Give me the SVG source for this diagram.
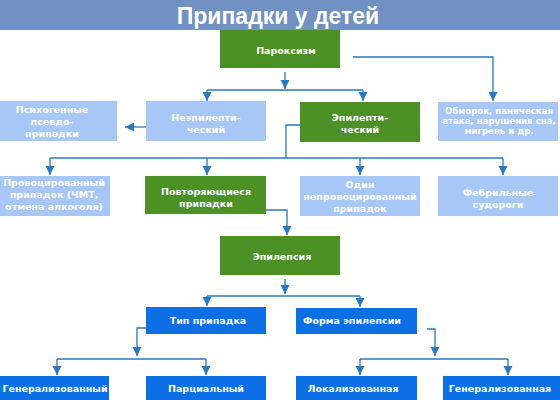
<svg xmlns="http://www.w3.org/2000/svg" width="560" height="400" viewBox="0 0 560 400">
<defs>
<marker id="ahl" markerUnits="userSpaceOnUse" markerWidth="10" markerHeight="10" refX="9" refY="5" orient="auto" viewBox="0 0 10 10">
<path d="M0,0.5 L9,5 L0,9.5 Z" fill="#2a78bd"/>
</marker>
<style>
.g{fill:#4b9126}
.l{fill:#a7c7f6}
.b{fill:#0c6fe6}
.t{font-family:"DejaVu Sans",sans-serif;font-weight:bold;font-size:9.5px;fill:#fff;text-anchor:middle}
.s{font-size:8.6px}
.c{fill:none;stroke:#2a78bd;stroke-width:1.3}
.a{marker-end:url(#ahl)}
</style>
</defs>
<rect width="560" height="400" fill="#fff"/>
<g id="title">
<rect x="0" y="0" width="560" height="30" fill="#7191c2"/>
<text x="278" y="24" text-anchor="middle" font-family="'Liberation Sans',sans-serif" font-weight="bold" font-size="23" fill="#fff">Припадки у детей</text>
</g>
<g id="connectors">
<path class="c a" d="M285,72 V89"/>
<path class="c" d="M207,90 H363"/>
<path class="c a" d="M207,90 V101"/>
<path class="c a" d="M363,90 V101"/>
<path class="c a" d="M353,57 H493 V101"/>
<path class="c a" d="M146,127 H125"/>
<path class="c" d="M300,125 H286 V158"/>
<path class="c" d="M50,158 H503"/>
<path class="c a" d="M50,158 V175"/>
<path class="c a" d="M207,158 V175"/>
<path class="c a" d="M360,158 V175"/>
<path class="c a" d="M503,158 V175"/>
<path class="c a" d="M266,210 H287 V235"/>
<path class="c a" d="M285,279 V294"/>
<path class="c" d="M207,296 H360"/>
<path class="c a" d="M207,296 V306"/>
<path class="c a" d="M360,296 V307"/>
<path class="c a" d="M146,328 H137 V356"/>
<path class="c" d="M57,359 H206"/>
<path class="c a" d="M57,359 V375"/>
<path class="c a" d="M206,359 V375"/>
<path class="c a" d="M427,329 H435 V356"/>
<path class="c" d="M360,359 H508"/>
<path class="c a" d="M360,359 V375"/>
<path class="c a" d="M508,359 V375"/>
</g>
<g id="paroxysm"><rect class="g" x="220" y="30" width="120" height="38"/><text class="t" x="286" y="54" font-size="10.5">Пароксизм</text></g>
<g id="psychogenic"><rect class="l" x="0" y="101" width="117" height="40"/><text class="t" x="52" y="113">Психогенные</text><text class="t" x="52" y="125">псевдо-</text><text class="t" x="52" y="137">припадки</text></g>
<g id="nonepileptic"><rect class="l" x="146" y="101" width="120" height="40"/><text class="t" x="206" y="121">Неэпилепти-</text><text class="t" x="206" y="133">ческий</text></g>
<g id="epileptic"><rect class="g" x="300" y="102" width="120" height="40"/><text class="t" x="360" y="121">Эпилепти-</text><text class="t" x="360" y="133">ческий</text></g>
<g id="other"><rect class="l" x="438" y="102" width="120" height="39"/><text class="t s" x="499" y="114">Обморок, паническая</text><text class="t s" x="499" y="124">атака, нарушения сна,</text><text class="t s" x="499" y="134">мигрень и др.</text></g>
<g id="provoked"><rect class="l" x="0" y="176" width="110" height="40"/><text class="t" x="54" y="186">Провоцированный</text><text class="t" x="54" y="198">припадок (ЧМТ,</text><text class="t" x="54" y="210">отмена алкоголя)</text></g>
<g id="recurrent"><rect class="g" x="145" y="176" width="121" height="38"/><text class="t" x="206" y="195">Повторяющиеся</text><text class="t" x="206" y="207">припадки</text></g>
<g id="single"><rect class="l" x="300" y="176" width="120" height="40"/><text class="t" x="360" y="188">Один</text><text class="t" x="360" y="200">непровоцированный</text><text class="t" x="360" y="212">припадок</text></g>
<g id="febrile"><rect class="l" x="438" y="176" width="120" height="40"/><text class="t" x="498" y="196">Фебрильные</text><text class="t" x="498" y="208">судороги</text></g>
<g id="epilepsy"><rect class="g" x="220" y="236" width="120" height="39"/><text class="t" x="282" y="260">Эпилепсия</text></g>
<g id="seizure-type"><rect class="b" x="146" y="307" width="120" height="27"/><text class="t" x="208" y="324">Тип припадка</text></g>
<g id="epilepsy-form"><rect class="b" x="296" y="308" width="121" height="26"/><text class="t" x="352" y="324">Форма эпилепсии</text></g>
<g id="generalized-m"><rect class="b" x="0" y="376" width="109" height="24"/><text class="t" x="55" y="392">Генерализованный</text></g>
<g id="partial"><rect class="b" x="146" y="376" width="120" height="24"/><text class="t" x="206" y="392">Парциальный</text></g>
<g id="localized"><rect class="b" x="296" y="376" width="121" height="24"/><text class="t" x="353" y="392">Локализованная</text></g>
<g id="generalized-f"><rect class="b" x="443" y="376" width="117" height="24"/><text class="t" x="500" y="392">Генерализованная</text></g>
</svg>
